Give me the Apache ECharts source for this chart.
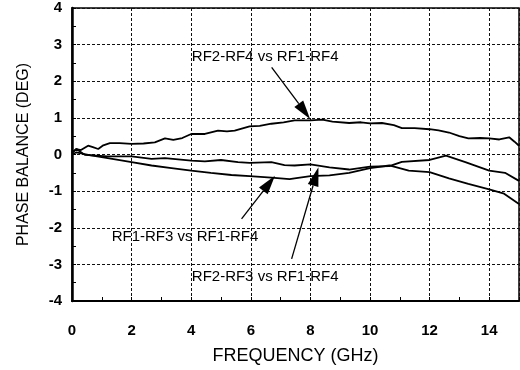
<!DOCTYPE html>
<html>
<head>
<meta charset="utf-8">
<script src="https://cdn.jsdelivr.net/npm/echarts@6/dist/echarts.min.js"></script>
<style>html,body{margin:0;padding:0;background:#fff;}#c{width:520px;height:370px;}</style>
</head>
<body>
<div id="c"></div>
<script>
// Frequency (GHz) and phase balance (deg) readings
const xUpper = [0, 0.15, 0.3, 0.54, 0.7, 0.88, 1.05, 1.27, 1.6, 2.0, 2.4, 2.78, 3.12, 3.4, 3.7, 4.0, 4.46, 4.9, 5.2, 5.46, 5.96, 6.3, 6.69, 7.1, 7.47, 8.0, 8.4, 8.74, 9.3, 9.7, 10.0, 10.4, 10.8, 11.07, 11.5, 12.0, 12.3, 12.65, 13.0, 13.3, 13.7, 14.0, 14.34, 14.67, 14.85, 15.0];
const yRF2RF4 = [0.05, 0.15, 0.12, 0.24, 0.2, 0.15, 0.25, 0.31, 0.31, 0.29, 0.3, 0.33, 0.44, 0.4, 0.45, 0.56, 0.56, 0.65, 0.63, 0.65, 0.77, 0.78, 0.84, 0.88, 0.93, 0.93, 0.95, 0.9, 0.86, 0.88, 0.85, 0.86, 0.8, 0.72, 0.72, 0.69, 0.66, 0.6, 0.5, 0.44, 0.45, 0.44, 0.41, 0.47, 0.35, 0.24];

const xMiddle = [0, 0.15, 0.43, 1.2, 2.0, 2.67, 3.12, 4.0, 4.46, 5.0, 5.57, 5.96, 6.69, 7.13, 7.47, 8.0, 8.64, 9.3, 10.0, 10.65, 11.07, 12.0, 12.55, 13.2, 14.0, 14.53, 15.0];
const yRF2RF3 = [0.05, 0.15, -0.01, -0.05, -0.05, -0.12, -0.1, -0.17, -0.19, -0.15, -0.21, -0.23, -0.21, -0.29, -0.3, -0.27, -0.35, -0.41, -0.33, -0.32, -0.2, -0.15, -0.03, -0.21, -0.44, -0.5, -0.72];

const xLower = [0, 0.15, 0.54, 1.2, 2.0, 2.67, 3.34, 4.0, 4.66, 5.35, 5.96, 6.69, 7.3, 7.47, 8.0, 8.64, 9.3, 10.0, 10.65, 11.3, 12.0, 12.65, 13.3, 14.0, 14.5, 15.0];
const yRF1RF3 = [0.0, 0.06, -0.01, -0.1, -0.21, -0.3, -0.37, -0.44, -0.5, -0.56, -0.59, -0.63, -0.67, -0.65, -0.59, -0.57, -0.5, -0.37, -0.3, -0.44, -0.48, -0.65, -0.8, -0.95, -1.07, -1.35];

const seriesNames = ['RF2-RF4 vs RF1-RF4', 'RF2-RF3 vs RF1-RF4', 'RF1-RF3 vs RF1-RF4'];
// annotation anchors in data units: label position, arrow start, arrow tip
const labelAt = [[4.02, 2.66], [4.02, -3.34], [1.33, -2.25]];
const arrowFrom = [[6.70, 2.38], [7.37, -2.85], [5.69, -1.76]];
const arrowTo = [[7.99, 0.97], [8.27, -0.35], [6.81, -0.58]];

const xTicks = [0, 2, 4, 6, 8, 10, 12, 14];
const yTicks = [-4, -3, -2, -1, 0, 1, 2, 3, 4];

const FONT = '"Liberation Sans", Arial, Helvetica, sans-serif';
const zip = (xs, ys) => xs.map((x, i) => [x, ys[i]]);
const curves = [zip(xUpper, yRF2RF4), zip(xMiddle, yRF2RF3), zip(xLower, yRF1RF3)];
const arrows = arrowFrom.map((f, i) => [f[0], f[1], arrowTo[i][0], arrowTo[i][1]]);

const chart = echarts.init(document.getElementById('c'), null, {renderer: 'canvas'});

const series = curves.map((d, i) => ({
  name: seriesNames[i],
  type: 'line',
  data: d,
  showSymbol: false,
  symbol: 'none',
  lineStyle: {color: '#000', width: 1.8},
  silent: true,
  animation: false,
  markPoint: {
    silent: true,
    animation: false,
    symbol: 'circle',
    symbolSize: 0,
    data: [{coord: labelAt[i], value: seriesNames[i]}],
    label: {
      show: true, position: 'right', distance: 0,
      formatter: seriesNames[i],
      color: '#000', fontFamily: FONT, fontSize: 15
    }
  }
}));

series.push({
  type: 'custom',
  silent: true,
  animation: false,
  clip: false,
  encode: {x: [0, 2], y: [1, 3]},
  data: arrows,
  renderItem: function (params, api) {
    const p0 = api.coord([api.value(0), api.value(1)]);
    const p1 = api.coord([api.value(2), api.value(3)]);
    const dx = p1[0] - p0[0], dy = p1[1] - p0[1];
    const len = Math.sqrt(dx * dx + dy * dy);
    const ux = dx / len, uy = dy / len;
    const head = 19, half = 5.5;
    const bx = p1[0] - ux * head, by = p1[1] - uy * head;
    return {
      type: 'group',
      children: [
        {type: 'line', shape: {x1: p0[0], y1: p0[1], x2: bx, y2: by}, style: {stroke: '#000', lineWidth: 1.3}},
        {type: 'polygon', shape: {points: [[p1[0], p1[1]], [bx - uy * half, by + ux * half], [bx + uy * half, by - ux * half]]}, style: {fill: '#000'}}
      ]
    };
  }
});

chart.setOption({
  animation: false,
  backgroundColor: '#fff',
  grid: {left: 72, right: 1, top: 8, bottom: 68, show: true, borderColor: '#000', borderWidth: 1.5, backgroundColor: 'transparent'},
  xAxis: {
    type: 'value', min: 0, max: 15, interval: 2,
    name: 'FREQUENCY (GHz)', nameLocation: 'middle', nameGap: 46,
    nameTextStyle: {fontFamily: FONT, fontSize: 18, color: '#000'},
    axisLine: {show: true, onZero: false, lineStyle: {color: '#000', width: 2}},
    axisTick: {show: true, inside: true, length: 4, lineStyle: {color: '#000'}},
    minorTick: {show: true, splitNumber: 2, length: 4, lineStyle: {color: '#000', width: 1}},
    axisLabel: {
      margin: 22, showMaxLabel: false, color: '#000', fontFamily: FONT, fontSize: 15, fontWeight: 'bold',
      formatter: v => (xTicks.indexOf(v) >= 0 ? String(v) : '')
    },
    splitLine: {show: true, lineStyle: {color: '#111', type: [3, 2], width: 1}}
  },
  yAxis: {
    type: 'value', min: -4, max: 4, interval: 1,
    name: 'PHASE BALANCE (DEG)', nameLocation: 'middle', nameGap: 40, nameRotate: 90,
    nameTextStyle: {fontFamily: FONT, fontSize: 16, color: '#000'},
    axisLine: {show: true, onZero: false, lineStyle: {color: '#000', width: 2.5}},
    axisTick: {show: true, inside: true, length: 4, lineStyle: {color: '#000'}},
    minorTick: {show: true, splitNumber: 2, length: 4, lineStyle: {color: '#000', width: 1}},
    axisLabel: {
      margin: 10, color: '#000', fontFamily: FONT, fontSize: 15, fontWeight: 'bold',
      formatter: v => (yTicks.indexOf(v) >= 0 ? String(v) : '')
    },
    splitLine: {show: true, lineStyle: {color: '#111', type: [3, 2], width: 1}}
  },
  series: series
});
</script>
</body>
</html>
